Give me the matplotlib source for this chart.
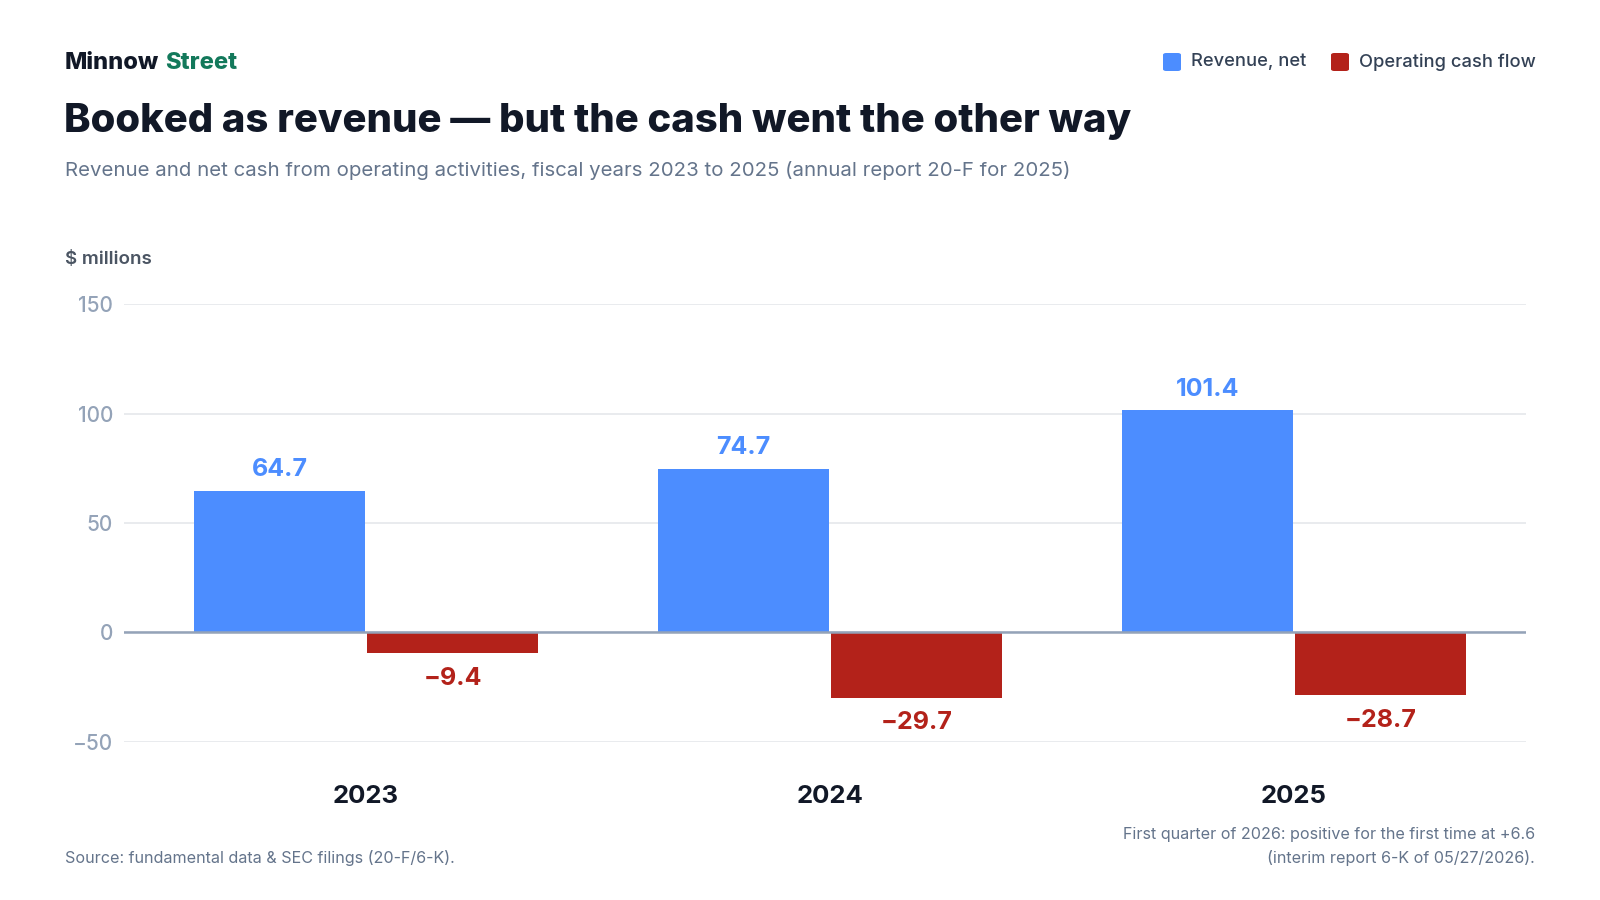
import numpy as np
import matplotlib
matplotlib.use('Agg')
from matplotlib import pyplot as plt
from matplotlib.patches import FancyBboxPatch

plt.rcParams['font.family'] = ['Inter', 'DejaVu Sans']

years = ['2023', '2024', '2025']
revenue = [64.7, 74.7, 101.4]
cash_flow = [-9.4, -29.7, -28.7]
y_ticks = [-50, 0, 50, 100, 150]

BLUE = '#4c8dff'
RED = '#b3221a'
DARK = '#111827'
GRAY = '#64748b'
LIGHT = '#94a3b8'

fig = plt.figure(figsize=(16, 9), dpi=100)
ax = fig.add_axes([0.0775, 0.1756, 0.87625, 0.4866])

x = np.arange(len(years))
width = 0.368
gap = 0.0025
ax.bar(x - width / 2 - gap, revenue, width, color=BLUE, zorder=3)
ax.bar(x + width / 2 + gap, cash_flow, width, color=RED, zorder=3)

for xi, v in zip(x, revenue):
    ax.annotate(f'{v:.1f}', (xi - width / 2 - gap, v), xytext=(0, 7), textcoords='offset points',
                ha='center', va='bottom', fontsize=18, fontweight='bold', color=BLUE)
for xi, v in zip(x, cash_flow):
    ax.annotate(f'{v:.1f}'.replace('-', '\u2212'), (xi + width / 2 + gap, v), xytext=(0, -10),
                textcoords='offset points', ha='center', va='top', fontsize=18, fontweight='bold', color=RED)

ax.set_ylim(-50, 150)
ax.set_xlim(-0.5216, 2.5)
ax.set_yticks(y_ticks)
ax.set_yticklabels([str(t).replace('-', '\u2212') for t in y_ticks])
ax.tick_params(axis='y', length=0, pad=8, labelsize=15, labelcolor=LIGHT)
for lbl in ax.get_yticklabels():
    lbl.set_fontweight('medium')
ax.set_xticks(x)
ax.set_xticklabels(years)
ax.tick_params(axis='x', length=0, pad=31, labelsize=18.5, labelcolor=DARK)
for lbl in ax.get_xticklabels():
    lbl.set_fontweight('bold')

ax.grid(axis='y', color='#e5e7eb', linewidth=1.2, zorder=0)
ax.axhline(0, color=LIGHT, linewidth=1.8, zorder=4)
for s in ax.spines.values():
    s.set_visible(False)

# header
brand = fig.text(65 / 1600, 1 - 63 / 900, 'Minnow', fontsize=17, fontweight='heavy', color=DARK, va='center')
fig.canvas.draw()
bb = brand.get_window_extent()
fig.text((bb.x1 + 6) / 1600, 1 - 63 / 900, 'Street', fontsize=17, fontweight='heavy', color='#13795b', va='center')
fig.text(64 / 1600, 1 - 122 / 900, 'Booked as revenue \u2014 but the cash went the other way',
         fontsize=28.8, fontweight='heavy', color=DARK, va='center')
fig.text(65 / 1600, 1 - 170 / 900,
         'Revenue and net cash from operating activities, fiscal years 2023 to 2025 (annual report 20-F for 2025)',
         fontsize=14.7, color=GRAY, va='center')
fig.text(65 / 1600, 1 - 259 / 900, '$ millions', fontsize=13.5, fontweight='semibold', color='#4b5563', va='center')

# legend
for cx, col, label in [(1172, BLUE, 'Revenue, net'), (1340, RED, 'Operating cash flow')]:
    fig.patches.append(FancyBboxPatch(((cx - 9) / 1600, 1 - 71 / 900), 18 / 1600, 18 / 900,
                                      boxstyle='round,pad=0,rounding_size=0.002', transform=fig.transFigure,
                                      facecolor=col, edgecolor='none'))
    fig.text((cx + 19) / 1600, 1 - 62 / 900, label, fontsize=13.2, fontweight='medium', color='#334155', va='center')

# footer
fig.text(65 / 1600, 1 - 858 / 900, 'Source: fundamental data & SEC filings (20-F/6-K).',
         fontsize=11.6, color=GRAY, va='center')
fig.text(1535 / 1600, 1 - 834 / 900, 'First quarter of 2026: positive for the first time at +6.6',
         fontsize=11.6, color=GRAY, va='center', ha='right')
fig.text(1535 / 1600, 1 - 858 / 900, '(interim report 6-K of 05/27/2026).',
         fontsize=11.6, color=GRAY, va='center', ha='right')

fig.savefig('out.png', dpi=100, facecolor='white')
